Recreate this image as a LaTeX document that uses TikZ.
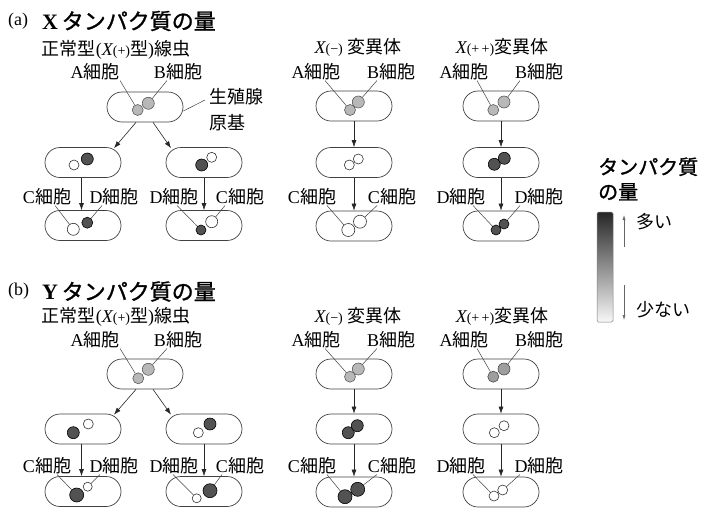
\documentclass[tikz,border=0pt]{standalone}
\usepackage{fontspec}
\setmainfont{Liberation Serif}
\newfontfamily\jp{Noto Sans CJK JP}
\newfontfamily\jpb[FakeBold=1.2]{Noto Sans CJK JP}
\usetikzlibrary{shapes.misc,arrows.meta}

\newcommand\saibo{{\jp 細胞}}
\newcommand\smallpar[1]{{\fontsize{14}{14}\selectfont(#1)}}

\tikzset{
  capsule/.style={rounded rectangle, draw=black!75, line width=0.7pt,
    minimum width=76pt, minimum height=30pt, inner sep=0pt},
  cellbase/.style={circle, line width=0.6pt, inner sep=0pt, minimum size=#1},
  lite/.style={cellbase=#1, fill=black!28, draw=black!65},
  midtone/.style={cellbase=#1, fill=black!38, draw=black!70},
  dark/.style={cellbase=#1, fill=black!68, draw=black},
  blank/.style={cellbase=#1, fill=white, draw=black!80},
  lbl/.style={font=\fontsize{18}{22}\selectfont, inner sep=0pt},
  ttlnum/.style={font=\fontsize{18}{20}\selectfont, inner sep=0pt, anchor=west},
  ttl/.style={font=\fontsize{22}{26}\selectfont, inner sep=0pt, anchor=west},
  lead/.style={draw=black!75, line width=0.5pt},
  flow/.style={draw=black!85, line width=0.6pt, -{Latex[length=7pt,width=5pt]}},
  legarrow/.style={draw=black!60, line width=0.5pt, -{Latex[length=5pt,width=3pt]}},
  bar/.style={rectangle, rounded corners=1.5pt, draw=black!50, line width=0.5pt,
    minimum width=16pt, minimum height=110pt, inner sep=0pt,
    top color=black!85, middle color=black!45, bottom color=black!3},
}

\begin{document}
\begin{tikzpicture}[x=1pt,y=-1pt]
\useasboundingbox (0,0) rectangle (705,515);

% ---------------- panel (a): X protein ----------------
\node[ttlnum] (pa) at (8,21) {(a)};
\node[ttl] (ta) at (42,21) {{\bfseries X}\,{\jpb タンパク質の量}};

% wild type column
\node[lbl] (na1) at (116,50) {{\jp 正常型}({\itshape X}\smallpar{+}{\jp 型}){\jp 線虫}};
\node[lbl] (la1A) at (95,72) {A\saibo};
\node[lbl] (la1B) at (178,72) {B\saibo};
\node[capsule] (g1) at (145,107) {};
\node[capsule] (g1L) at (83,162.5) {};
\node[capsule] (g1R) at (204,162.5) {};
\node[capsule] (g1LL) at (83,225.5) {};
\node[capsule] (g1RR) at (204,225.5) {};
\node[lbl, font=\jp\fontsize{18}{26}\selectfont, align=left, anchor=west] (gl) at (209,110) {生殖腺\\原基};
\draw[lead] ([yshift=-4pt]g1.east) -- ([xshift=-4pt,yshift=10pt]gl.west);

\node[lite=11pt] (c1A) at (137.7,110) {};
\node[lite=12pt] (c1B) at (148.3,103.3) {};
\node[blank=10pt] (c1La) at (74,165) {};
\node[dark=12pt] (c1Lb) at (87.3,159) {};
\node[dark=12pt] (c1Ra) at (201.7,165) {};
\node[blank=10pt] (c1Rb) at (211.7,157.3) {};
\node[blank=12pt] (c1LLa) at (73.3,229.3) {};
\node[dark=11pt] (c1LLb) at (87.3,222.7) {};
\node[dark=10pt] (c1RRa) at (201,230) {};
\node[blank=12pt] (c1RRb) at (211.7,221.7) {};

\node[lbl] (lc1) at (47,197) {C\saibo};
\node[lbl] (ld1) at (114,197) {D\saibo};
\node[lbl] (ld2) at (174,197) {D\saibo};
\node[lbl] (lc2) at (240,197) {C\saibo};

\draw[lead] ([xshift=25pt]la1A.south) -- (c1A);
\draw[lead] ([xshift=-11pt]la1B.south) -- (c1B);
\draw[lead] ([xshift=8pt]lc1.south) -- (c1LLa);
\draw[lead] ([xshift=-12pt]ld1.south) -- (c1LLb);
\draw[lead] ([xshift=3pt]ld2.south) -- (c1RRa);
\draw[lead] ([xshift=-15pt]lc2.south) -- (c1RRb);

\draw[flow] ([xshift=-9pt]g1.south) -- ([xshift=31pt,yshift=-1pt]g1L.north);
\draw[flow] ([xshift=8pt]g1.south) -- ([xshift=-33pt,yshift=-1pt]g1R.north);
\draw[flow] ([xshift=-1.5pt]g1L.south) -- ([xshift=-1.5pt]g1LL.north);
\draw[flow] (g1R.south) -- (g1RR.north);

% X(-) column
\node[lbl] (na2) at (358,47) {{\itshape X}\smallpar{−}\ {\jp 変異体}};
\node[lbl] (la2A) at (316,72) {A\saibo};
\node[lbl] (la2B) at (391,72) {B\saibo};
\node[capsule] (g2) at (354,106) {};
\node[capsule] (g2M) at (354,162.5) {};
\node[capsule] (g2B) at (354,226) {};
\node[lite=11pt] (c2A) at (350,110) {};
\node[lite=12pt] (c2B) at (358.3,102) {};
\node[blank=10pt] (c2Ma) at (349.3,165) {};
\node[blank=10pt] (c2Mb) at (358.3,159) {};
\node[blank=13pt] (c2Ba) at (348.3,230) {};
\node[blank=13pt] (c2Bb) at (360,221.7) {};
\node[lbl] (lc3) at (312,197) {C\saibo};
\node[lbl] (lc4) at (392,197) {C\saibo};
\draw[lead] ([xshift=9pt]la2A.south) -- (c2A);
\draw[lead] ([xshift=-14pt]la2B.south) -- (c2B);
\draw[lead] ([xshift=15pt]lc3.south) -- (c2Ba);
\draw[lead] ([xshift=-15pt]lc4.south) -- (c2Bb);
\draw[flow] (g2.south) -- (g2M.north);
\draw[flow] (g2M.south) -- (g2B.north);

% X(++) column
\node[lbl] (na3) at (502,47) {{\itshape X}\smallpar{+\,+}{\jp 変異体}};
\node[lbl] (la3A) at (464,72) {A\saibo};
\node[lbl] (la3B) at (539,72) {B\saibo};
\node[capsule] (g3) at (501,106) {};
\node[capsule] (g3M) at (501,162.5) {};
\node[capsule] (g3B) at (501,226) {};
\node[lite=11pt] (c3A) at (493.3,110) {};
\node[lite=12pt] (c3B) at (504,102) {};
\node[dark=12pt] (c3Ma) at (494.3,164.3) {};
\node[dark=12pt] (c3Mb) at (504.3,158.3) {};
\node[dark=10pt] (c3Ba) at (496,230) {};
\node[dark=10pt] (c3Bb) at (504,224) {};
\node[lbl] (ld3) at (461,197) {D\saibo};
\node[lbl] (ld4) at (539,197) {D\saibo};
\draw[lead] ([xshift=13pt]la3A.south) -- (c3A);
\draw[lead] ([xshift=-19pt]la3B.south) -- (c3B);
\draw[lead] ([xshift=12pt]ld3.south) -- (c3Ba);
\draw[lead] ([xshift=-19pt]ld4.south) -- (c3Bb);
\draw[flow] (g3.south) -- (g3M.north);
\draw[flow] (g3M.south) -- (g3B.north);

% ---------------- panel (b): Y protein ----------------
\begin{scope}[yshift=-267pt]
\node[ttlnum] (pb) at (8,24.5) {(b)};
\node[ttl] (tb) at (42,24.5) {{\bfseries Y}\,{\jpb タンパク質の量}};

% wild type column
\node[lbl] (nb1) at (116,50) {{\jp 正常型}({\itshape X}\smallpar{+}{\jp 型}){\jp 線虫}};
\node[lbl] (lb1A) at (95,73) {A\saibo};
\node[lbl] (lb1B) at (178,73) {B\saibo};
\node[capsule] (h1) at (145,107) {};
\node[capsule] (h1L) at (83,162) {};
\node[capsule] (h1R) at (204,162) {};
\node[capsule] (h1LL) at (83,224.5) {};
\node[capsule] (h1RR) at (204,224.5) {};

\node[lite=11pt] (d1A) at (138.3,111.3) {};
\node[lite=12pt] (d1B) at (148.3,102.3) {};
\node[dark=12pt] (d1La) at (73.3,165.7) {};
\node[blank=10pt] (d1Lb) at (88.3,157) {};
\node[blank=10pt] (d1Ra) at (198.3,165.7) {};
\node[dark=12pt] (d1Rb) at (210,157) {};
\node[dark=14pt] (d1LLa) at (76.7,228) {};
\node[blank=9pt] (d1LLb) at (87.7,219.7) {};
\node[blank=9pt] (d1RRa) at (196.7,231.3) {};
\node[dark=14pt] (d1RRb) at (210,223.7) {};

\node[lbl] (mc1) at (47,199) {C\saibo};
\node[lbl] (md1) at (114,199) {D\saibo};
\node[lbl] (md2) at (174,199) {D\saibo};
\node[lbl] (mc2) at (240,199) {C\saibo};

\draw[lead] ([xshift=25pt]lb1A.south) -- (d1A);
\draw[lead] ([xshift=-11pt]lb1B.south) -- (d1B);
\draw[lead] ([xshift=10pt]mc1.south) -- (d1LLa);
\draw[lead] ([xshift=-14pt]md1.south) -- (d1LLb);
\draw[lead] ([xshift=-1pt]md2.south) -- (d1RRa);
\draw[lead] ([xshift=-18pt]mc2.south) -- (d1RRb);

\draw[flow] ([xshift=-9pt]h1.south) -- ([xshift=31pt,yshift=-1pt]h1L.north);
\draw[flow] ([xshift=8pt]h1.south) -- ([xshift=-33pt,yshift=-1pt]h1R.north);
\draw[flow] ([xshift=-1.5pt]h1L.south) -- ([xshift=-1.5pt]h1LL.north);
\draw[flow] (h1R.south) -- (h1RR.north);

% X(-) column
\node[lbl] (nb2) at (358,49.7) {{\itshape X}\smallpar{−}\ {\jp 変異体}};
\node[lbl] (lb2A) at (316,73) {A\saibo};
\node[lbl] (lb2B) at (391,73) {B\saibo};
\node[capsule] (h2) at (354,107) {};
\node[capsule] (h2M) at (354,162) {};
\node[capsule] (h2B) at (354,225) {};
\node[lite=11pt] (d2A) at (350,109.7) {};
\node[lite=12pt] (d2B) at (358.3,102) {};
\node[dark=12pt] (d2Ma) at (348.3,165.7) {};
\node[dark=12pt] (d2Mb) at (357.3,158.7) {};
\node[dark=14pt] (d2Ba) at (345,229.7) {};
\node[dark=14pt] (d2Bb) at (357.7,222.3) {};
\node[lbl] (mc3) at (312,199) {C\saibo};
\node[lbl] (mc4) at (392,199) {C\saibo};
\draw[lead] ([xshift=9pt]lb2A.south) -- (d2A);
\draw[lead] ([xshift=-14pt]lb2B.south) -- (d2B);
\draw[lead] ([xshift=15pt]mc3.south) -- (d2Ba);
\draw[lead] ([xshift=-15pt]mc4.south) -- (d2Bb);
\draw[flow] (h2.south) -- (h2M.north);
\draw[flow] (h2M.south) -- (h2B.north);

% X(++) column
\node[lbl] (nb3) at (502,49.7) {{\itshape X}\smallpar{+\,+}{\jp 変異体}};
\node[lbl] (lb3A) at (464,73) {A\saibo};
\node[lbl] (lb3B) at (539,73) {B\saibo};
\node[capsule] (h3) at (501,107) {};
\node[capsule] (h3M) at (501,162) {};
\node[capsule] (h3B) at (501,225) {};
\node[midtone=11pt] (d3A) at (493.3,109.7) {};
\node[midtone=12pt] (d3B) at (504,102) {};
\node[blank=10pt] (d3Ma) at (494.3,165.7) {};
\node[blank=10pt] (d3Mb) at (504,158.7) {};
\node[blank=10pt] (d3Ba) at (494,229) {};
\node[blank=10pt] (d3Bb) at (502.7,223) {};
\node[lbl] (md3) at (461,199) {D\saibo};
\node[lbl] (md4) at (539,199) {D\saibo};
\draw[lead] ([xshift=13pt]lb3A.south) -- (d3A);
\draw[lead] ([xshift=-19pt]lb3B.south) -- (d3B);
\draw[lead] ([xshift=12pt]md3.south) -- (d3Ba);
\draw[lead] ([xshift=-19pt]md4.south) -- (d3Bb);
\draw[flow] (h3.south) -- (h3M.north);
\draw[flow] (h3M.south) -- (h3B.north);
\end{scope}

% ---------------- legend ----------------
\node[font=\jpb\fontsize{20}{25}\selectfont, inner sep=0pt, align=left, anchor=west] (legt) at (598,179) {タンパク質\\の量};
\node[bar] (bar) at (605,267) {};
\coordinate (upfrom) at (624,247);
\coordinate (upto) at (624,215);
\coordinate (dnfrom) at (624,285);
\coordinate (dnto) at (624,320);
\draw[legarrow] (upfrom) -- (upto);
\draw[legarrow] (dnfrom) -- (dnto);
\node[lbl, font=\jp\fontsize{18}{22}\selectfont, anchor=west] (many) at (636,222) {多い};
\node[lbl, font=\jp\fontsize{18}{22}\selectfont, anchor=west] (few) at (636,310) {少ない};
\end{tikzpicture}
\end{document}
